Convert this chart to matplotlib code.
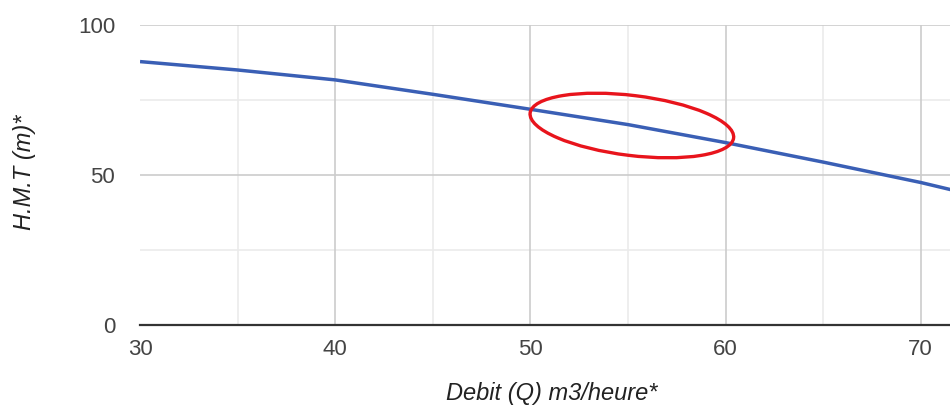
import matplotlib
matplotlib.use("Agg")
import matplotlib.pyplot as plt
from matplotlib.patches import Ellipse
from matplotlib.transforms import ScaledTranslation

plt.rcParams['font.family'] = ['Liberation Sans', 'DejaVu Sans']

# Pump curve: flow (m3/h) vs total manometric head (m)
debit = [30, 35, 40, 45, 50, 55, 60, 65, 70, 72]
hmt = [87.8, 85.0, 81.7, 76.9, 71.9, 66.8, 60.8, 54.3, 47.5, 44.4]

x_ticks = [30, 40, 50, 60, 70]
y_ticks = [0, 50, 100]
x_label = "Debit (Q) m3/heure*"
y_label = "H.M.T (m)*"

# highlighted operating zone (centre in data units)
zone_center = (55.2, 66.5)

fig = plt.figure(figsize=(9.5, 4.07), dpi=100)
ax = fig.add_axes([0.1474, 0.2015, 0.8526, 0.7371])

ax.set_xlim(30, 71.5)
ax.set_ylim(0, 100)

# grid: major and minor
for xv in range(35, 75, 10):
    ax.axvline(xv, color='#ebebeb', lw=1.2, zorder=0)
for yv in (25, 75):
    ax.axhline(yv, color='#ebebeb', lw=1.2, zorder=0)
for xv in x_ticks[1:]:
    ax.axvline(xv, color='#cccccc', lw=1.2, zorder=0)
for yv in y_ticks[1:]:
    ax.axhline(yv, color='#cccccc', lw=1.2, zorder=0)

ax.plot(debit, hmt, color='#3a5fb5', lw=2.5, solid_capstyle='butt', zorder=3)

for s in ('top', 'right', 'left'):
    ax.spines[s].set_visible(False)
ax.spines['bottom'].set_color('#333333')
ax.spines['bottom'].set_linewidth(1.6)

ax.set_xticks(x_ticks)
ax.set_yticks(y_ticks)
ax.tick_params(axis='both', length=0, labelsize=16, labelcolor='#444444')
ax.tick_params(axis='x', pad=10)
ax.tick_params(axis='y', pad=18)

ax.set_xlabel(x_label, fontsize=17, style='italic', color='#222222')
ax.set_ylabel(y_label, fontsize=17, style='italic', color='#222222')
ax.yaxis.set_label_coords(-0.129, 0.51)
ax.xaxis.set_label_coords(0.508, -0.19)

trans = fig.dpi_scale_trans + ScaledTranslation(zone_center[0], zone_center[1], ax.transData)
ell = Ellipse((0, 0), width=2.05, height=0.6, angle=-7, transform=trans,
              fill=False, edgecolor='#e8141c', lw=2.4, zorder=4, clip_on=False)
ax.add_patch(ell)

fig.savefig("out.png", dpi=100)
